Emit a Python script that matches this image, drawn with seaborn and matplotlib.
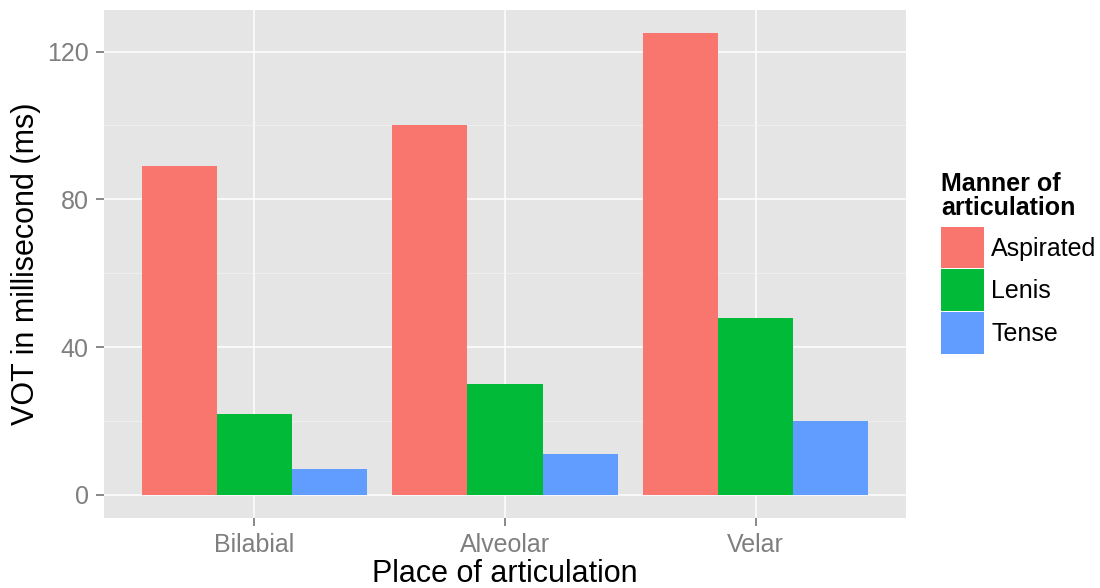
import matplotlib
matplotlib.use("Agg")
import matplotlib.pyplot as plt
import seaborn as sns
import pandas as pd

places = ["Bilabial", "Alveolar", "Velar"]
manners = ["Aspirated", "Lenis", "Tense"]
aspirated = [89, 100, 125]
lenis = [22, 30, 48]
tense = [7, 11, 20]
colors = ["#F8766D", "#00BA38", "#619CFF"]
y_ticks = [0, 40, 80, 120]

df = pd.DataFrame({
    "place": places * 3,
    "manner": [m for m in manners for _ in places],
    "vot": aspirated + lenis + tense,
})

sns.set_theme(style="darkgrid", rc={
    "xtick.bottom": True, "ytick.left": True,
    "xtick.major.size": 6, "ytick.major.size": 6,
    "xtick.major.width": 1.3, "ytick.major.width": 1.3,
    "xtick.color": "#7F7F7F", "ytick.color": "#7F7F7F",
    "xtick.direction": "out", "ytick.direction": "out",
})
plt.rcParams["font.family"] = ["Liberation Sans", "DejaVu Sans"]
plt.rcParams["text.color"] = "black"
plt.rcParams["axes.labelcolor"] = "black"

fig = plt.figure(figsize=(11, 5.88), dpi=100)
ax = fig.add_axes([104/1100, 70/588, 802/1100, 508/588])
ax.set_facecolor("#E5E5E5")

sns.barplot(data=df, x="place", y="vot", hue="manner", order=places,
            hue_order=manners, palette=colors, width=0.9, gap=0,
            saturation=1, linewidth=0, errorbar=None, ax=ax)

ax.set_xlim(-0.6, 2.6)
ax.set_ylim(-6.25, 131.25)
ax.set_yticks(y_ticks)
ax.set_yticks([20, 60, 100], minor=True)
ax.grid(which="major", color="white", linewidth=1.1)
ax.grid(which="minor", color="#F2F2F2", linewidth=0.55)
ax.set_axisbelow(True)
for s in ax.spines.values():
    s.set_visible(False)

ax.tick_params(axis="both", which="major", length=6, width=1.3, color="#7F7F7F",
               labelcolor="#7F7F7F", labelsize=18, bottom=True, left=True,
               direction="out")
ax.tick_params(axis="x", which="major", pad=5)
ax.tick_params(axis="y", which="major", pad=5)
ax.tick_params(axis="both", which="minor", length=0)

ax.set_xlabel("Place of articulation", fontsize=22, color="black", labelpad=1)
ax.set_ylabel("VOT in millisecond (ms)", fontsize=22, color="black", labelpad=4.5)

leg = ax.get_legend()
handles = leg.legend_handles
labels = [t.get_text() for t in leg.get_texts()]
leg.remove()
leg = fig.legend(handles, labels, title="Manner of\narticulation",
                 loc="upper left", bbox_to_anchor=(941/1100, 1 - 172/588),
                 frameon=False, fontsize=18, title_fontsize=18,
                 handlelength=1.72, handleheight=2.18, labelspacing=0.04,
                 handletextpad=0.28, borderpad=0, borderaxespad=0,
                 alignment="left", labelcolor="black")
leg.get_title().set_fontweight("bold")
leg.get_title().set_color("black")
leg.get_title().set_linespacing(1.0)
leg._legend_box.sep = 5.0

fig.savefig("out.png", dpi=100)
